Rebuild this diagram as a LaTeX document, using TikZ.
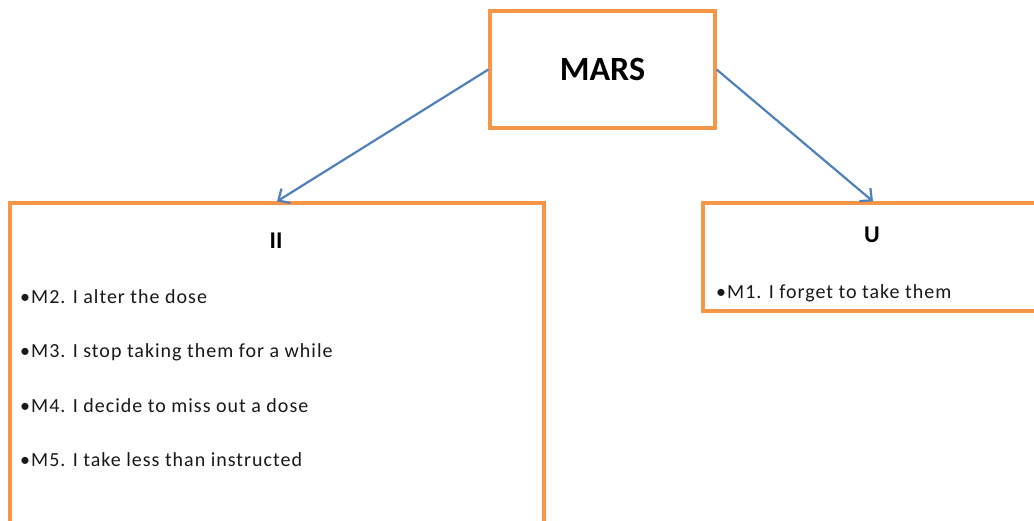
\documentclass[tikz,border=0pt]{standalone}
\usepackage{fontspec}
\setmainfont{Carlito}
\newfontfamily\itemfont[LetterSpace=5]{Carlito}
\usetikzlibrary{arrows.meta}
\definecolor{boxorange}{HTML}{F79646}
\definecolor{arrowblue}{HTML}{4F81BD}
\begin{document}
\begin{tikzpicture}[x=1pt,y=-1pt,
  box/.style={draw=boxorange,line width=3.2pt,rectangle,inner sep=0pt,fill=white},
  conn/.style={draw=arrowblue,line width=2.2pt,-{Straight Barb[length=9pt,width=17pt,line width=2.2pt]}},
  item/.style={anchor=base west,inner sep=0pt,font=\itemfont\fontsize{20}{22}\selectfont,text=black!90},
  head/.style={anchor=base,inner sep=0pt,font=\fontsize{24}{26}\selectfont\bfseries}]
\useasboundingbox (0,0) rectangle (1034,520);
\clip (0,0) rectangle (1034,520);
\fill[white] (0,0) rectangle (1034,520);
\node[box,minimum width=225pt,minimum height=117pt] (mars) at (602.5,69.5) {};
\node[anchor=base,inner sep=0pt,font=\fontsize{34}{36}\selectfont\bfseries] (marst) at (602.5,80) {MARS};
\node[box,minimum width=534pt,minimum height=357pt] (ii) at (277,381.5) {};
\node[box,minimum width=340pt,minimum height=108pt] (u) at (873,257) {};
\node[head] (iit) at (276,248) {II};
\node[head] (ut) at (872,242) {U};
\node[item] (m2) at (20,303) {•M2. I alter the dose};
\node[item] (m3) at (20,357) {•M3. I stop taking them for a while};
\node[item] (m4) at (20,412) {•M4. I decide to miss out a dose};
\node[item] (m5) at (20,466) {•M5. I take less than instructed};
\node[item] (m1) at (716,298) {•M1. I forget to take them};
\draw[conn] (mars.west) -- (ii.north);
\draw[conn] (mars.east) -- (u.north);
\end{tikzpicture}
\end{document}
